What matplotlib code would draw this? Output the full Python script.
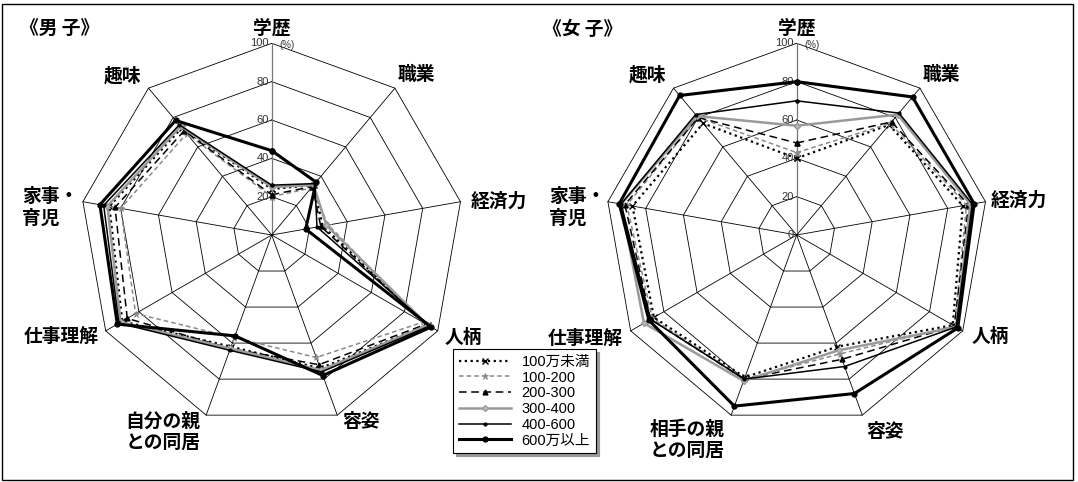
import numpy as np
import matplotlib
matplotlib.use("Agg")
import matplotlib.pyplot as plt
from matplotlib.patches import Rectangle

plt.rcParams['font.family'] = ['Noto Sans CJK JP', 'DejaVu Sans']

# axes go clockwise from the top
male_axis_labels = ["学歴", "職業", "経済力", "人柄", "容姿", "自分の親\nとの同居", "仕事理解", "家事・\n育児", "趣味"]
female_axis_labels = ["学歴", "職業", "経済力", "人柄", "容姿", "相手の親\nとの同居", "仕事理解", "家事・\n育児", "趣味"]
series_names = ["100万未満", "100-200", "200-300", "300-400", "400-600", "600万以上"]
ring_ticks = [20, 40, 60, 80, 100]

# 男子 (%)
male_u100 = [24, 34, 27, 94, 74, 62, 90, 86, 73]
male_100_200 = [20, 32, 30, 91, 68, 57, 82, 80, 69]
male_200_300 = [21, 33, 26, 93, 72, 63, 87, 83, 71]
male_300_400 = [25, 34, 29, 94, 75, 63, 91, 87, 74]
male_400_600 = [26, 35, 24, 95, 76, 64, 92, 89, 75]
male_600plus = [44, 36, 18, 96, 78, 56, 93, 91, 78]

# 女子 (%)
female_u100 = [40, 75, 88, 94, 62, 79, 86, 87, 76]
female_100_200 = [43, 76, 90, 95, 66, 80, 87, 90, 80]
female_200_300 = [48, 77, 91, 95, 69, 80, 88, 91, 80]
female_300_400 = [57, 82, 92, 96, 64, 81, 92, 93, 81]
female_400_600 = [70, 83, 93, 96, 73, 80, 88, 93, 82]
female_600plus = [80, 94, 94, 97, 88, 95, 89, 94, 95]

# line styles for the six income groups
styles = [
    dict(color="black", ls=(0, (1, 1.6)), lw=1.6, marker="x", ms=4, mew=1.0),
    dict(color="#8a8a8a", ls=(0, (3, 2)), lw=1.1, marker="*", ms=5, mew=0.6),
    dict(color="black", ls=(0, (5, 3)), lw=1.1, marker="^", ms=3.5),
    dict(color="#9a9a9a", ls="-", lw=1.8, marker="D", ms=3, mfc="#bbbbbb"),
    dict(color="black", ls="-", lw=1.1, marker="o", ms=2),
    dict(color="black", ls="-", lw=2.2, marker="o", ms=3.5),
]

W, H = 1078, 482
R = 191.7  # pixels for 100%
fig = plt.figure(figsize=(W / 100, H / 100), dpi=100)


def radar(cx, title, title_x, axis_labels, label_pos, data, zero_label):
    ax = fig.add_axes([(cx - R) / W, (H - 235 - R) / H, 2 * R / W, 2 * R / H])
    ax.set_xlim(-100, 100)
    ax.set_ylim(-100, 100)
    ax.axis("off")
    ang = np.deg2rad(np.arange(len(axis_labels)) * 360 / len(axis_labels))
    ang_c = np.append(ang, ang[0])
    # grid
    for r in ring_ticks:
        ax.plot(r * np.sin(ang_c), r * np.cos(ang_c), color="black", lw=0.6, zorder=1)
    for i, a in enumerate(ang):
        ax.plot([0, 100 * np.sin(a)], [0, 100 * np.cos(a)],
                color="#777777" if i == 0 else "black", lw=0.9 if i == 0 else 0.6, zorder=1)
    for r in ring_ticks:
        ax.text(-1.5, r, str(r), ha="right", va="center", fontsize=8,
                color="#333333", family=["Liberation Sans"], zorder=2)
    if zero_label:
        ax.text(-1.5, 0, "0", ha="right", va="center", fontsize=8,
                color="#333333", family=["Liberation Sans"], zorder=2)
    ax.text(4, 99, "(%)", ha="left", va="center", fontsize=7,
            color="#333333", family=["Liberation Sans"])
    # series
    handles = []
    for vals, st in zip(data, styles):
        v = np.array(vals + vals[:1], dtype=float)
        h, = ax.plot(v * np.sin(ang_c), v * np.cos(ang_c), clip_on=False, zorder=3, **st)
        handles.append(h)
    # axis labels
    for lab, (x, y, ha) in zip(axis_labels, label_pos):
        ax.text(x, y, lab, ha=ha, va="center", fontsize=13.5, fontweight="bold",
                linespacing=1.15, multialignment="left", clip_on=False)
    fig.text(title_x / W, 1 - 29 / H, title, ha="left", va="center",
             fontsize=13.5, fontweight="bold")
    return handles


male_pos = [(0, 108, "center"), (75.7, 83.6, "center"), (104, 17.4, "left"),
            (90, -53.7, "left"), (46.6, -97.4, "center"), (-56.7, -102.8, "center"),
            (-90, -53, "right"), (-130, 14.3, "left"), (-78, 83, "center")]
female_pos = [(0, 108, "center"), (75.6, 83.5, "center"), (101, 18, "left"),
              (91, -53, "left"), (46, -102.6, "center"), (-57, -107, "center"),
              (-91, -53.7, "right"), (-129, 14.3, "left"), (-78, 83.5, "center")]

h = radar(271.7, "《男 子》", 20, male_axis_labels, male_pos,
          [male_u100, male_100_200, male_200_300, male_300_400, male_400_600, male_600plus], False)
radar(796.7, "《女 子》", 543, female_axis_labels, female_pos,
      [female_u100, female_100_200, female_200_300, female_300_400, female_400_600, female_600plus], True)

leg = fig.legend(h, series_names, loc="upper left", bbox_to_anchor=(453 / W, 1 - 349 / H),
                 borderaxespad=0, fontsize=10.5, handlelength=3.6, numpoints=1,
                 labelspacing=0.12, borderpad=0.4, handletextpad=0.7,
                 fancybox=False, shadow={"color": "#999999", "alpha": 1}, framealpha=1)
leg.get_frame().set_edgecolor("black")
leg.get_frame().set_linewidth(0.8)
for t in leg.get_texts():
    t.set_family(["Liberation Sans", "Noto Sans CJK JP"])

fig.patches.append(Rectangle((2 / W, 2 / H), 1071 / W, 476 / H, transform=fig.transFigure,
                             fill=False, edgecolor="black", lw=1.0))

fig.savefig("out.png", dpi=100)
